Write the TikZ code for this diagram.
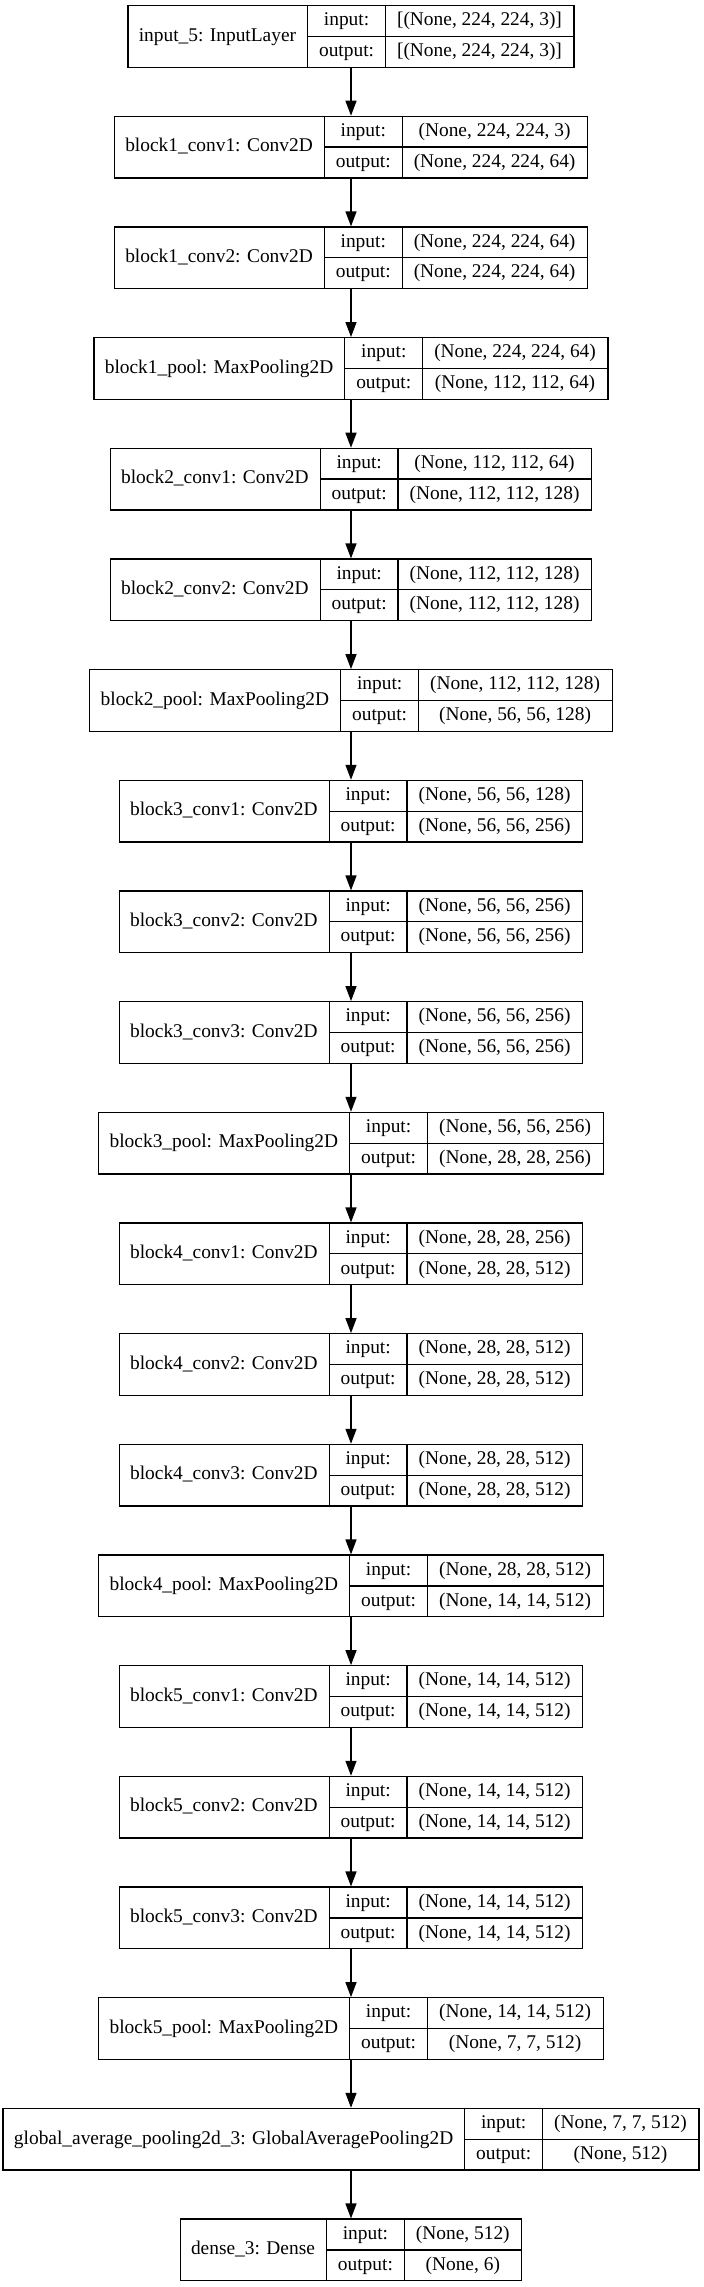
\documentclass[tikz,border=0pt]{standalone}
\usepackage{fontspec}
\setmainfont{Liberation Serif}
\usetikzlibrary{arrows.meta}
\newlength\wA \newlength\wB \newlength\wC \newlength\wD \newlength\wT
\newcommand\lfont{\fontsize{9.7pt}{11pt}\selectfont}
\tikzset{
  box/.style={draw=black, line width=0.65pt, minimum height=30.75pt, inner sep=0pt, fill=white},
  txt/.style={inner sep=0pt, font=\lfont, text height=6.6pt, text depth=1.8pt},
  divider/.style={draw=black, line width=0.65pt},
  arr/.style={draw=black, line width=0.65pt, -{Triangle[length=7.5pt,width=5.5pt]}}
}
% measure outside the picture (fonts are null inside)
\newcommand\deflayer[4]{% index, name, in, out
  \settowidth\wA{\lfont #2}\addtolength\wA{11.5pt}%
  \settowidth\wB{\lfont output:}\addtolength\wB{11.5pt}%
  \settowidth\wC{\lfont #3}\settowidth\wD{\lfont #4}%
  \ifdim\wD>\wC \wC=\wD\fi \addtolength\wC{11.5pt}%
  \wT=\wA \addtolength\wT{\wB}\addtolength\wT{\wC}%
  \expandafter\xdef\csname lwA#1\endcsname{\the\wA}%
  \expandafter\xdef\csname lwB#1\endcsname{\the\wB}%
  \expandafter\xdef\csname lwC#1\endcsname{\the\wC}%
  \expandafter\xdef\csname lwT#1\endcsname{\the\wT}%
  \expandafter\gdef\csname lname#1\endcsname{#2}%
  \expandafter\gdef\csname lin#1\endcsname{#3}%
  \expandafter\gdef\csname lout#1\endcsname{#4}%
}
\newcommand\drawlayer[1]{%
  \edef\A{\csname lwA#1\endcsname}\edef\B{\csname lwB#1\endcsname}%
  \edef\C{\csname lwC#1\endcsname}\edef\T{\csname lwT#1\endcsname}%
  \pgfmathsetmacro\ty{5.7+110.67*#1+30.75}%
  \node[box, minimum width=\T] (L#1) at (351,\ty) {};
  \draw[divider] ([xshift=\A]L#1.north west) -- ([xshift=\A]L#1.south west);
  \draw[divider] ([xshift=\A+\B]L#1.north west) -- ([xshift=\A+\B]L#1.south west);
  \draw[divider] ([xshift=\A]L#1.west) -- (L#1.east);
  \node[txt] (L#1n) at ([xshift=0.5*\A]L#1.west) {\csname lname#1\endcsname};
  \node[txt] (L#1i) at ([xshift=\A+0.5*\B, yshift=7.6875pt]L#1.west) {input:};
  \node[txt] (L#1o) at ([xshift=\A+0.5*\B, yshift=-7.6875pt]L#1.west) {output:};
  \node[txt] (L#1a) at ([xshift=\A+\B+0.5*\C, yshift=7.6875pt]L#1.west) {\csname lin#1\endcsname};
  \node[txt] (L#1b) at ([xshift=\A+\B+0.5*\C, yshift=-7.6875pt]L#1.west) {\csname lout#1\endcsname};
}
\begin{document}
\deflayer{0}{input\_5: InputLayer}{[(None, 224, 224, 3)]}{[(None, 224, 224, 3)]}%
\deflayer{1}{block1\_conv1: Conv2D}{(None, 224, 224, 3)}{(None, 224, 224, 64)}%
\deflayer{2}{block1\_conv2: Conv2D}{(None, 224, 224, 64)}{(None, 224, 224, 64)}%
\deflayer{3}{block1\_pool: MaxPooling2D}{(None, 224, 224, 64)}{(None, 112, 112, 64)}%
\deflayer{4}{block2\_conv1: Conv2D}{(None, 112, 112, 64)}{(None, 112, 112, 128)}%
\deflayer{5}{block2\_conv2: Conv2D}{(None, 112, 112, 128)}{(None, 112, 112, 128)}%
\deflayer{6}{block2\_pool: MaxPooling2D}{(None, 112, 112, 128)}{(None, 56, 56, 128)}%
\deflayer{7}{block3\_conv1: Conv2D}{(None, 56, 56, 128)}{(None, 56, 56, 256)}%
\deflayer{8}{block3\_conv2: Conv2D}{(None, 56, 56, 256)}{(None, 56, 56, 256)}%
\deflayer{9}{block3\_conv3: Conv2D}{(None, 56, 56, 256)}{(None, 56, 56, 256)}%
\deflayer{10}{block3\_pool: MaxPooling2D}{(None, 56, 56, 256)}{(None, 28, 28, 256)}%
\deflayer{11}{block4\_conv1: Conv2D}{(None, 28, 28, 256)}{(None, 28, 28, 512)}%
\deflayer{12}{block4\_conv2: Conv2D}{(None, 28, 28, 512)}{(None, 28, 28, 512)}%
\deflayer{13}{block4\_conv3: Conv2D}{(None, 28, 28, 512)}{(None, 28, 28, 512)}%
\deflayer{14}{block4\_pool: MaxPooling2D}{(None, 28, 28, 512)}{(None, 14, 14, 512)}%
\deflayer{15}{block5\_conv1: Conv2D}{(None, 14, 14, 512)}{(None, 14, 14, 512)}%
\deflayer{16}{block5\_conv2: Conv2D}{(None, 14, 14, 512)}{(None, 14, 14, 512)}%
\deflayer{17}{block5\_conv3: Conv2D}{(None, 14, 14, 512)}{(None, 14, 14, 512)}%
\deflayer{18}{block5\_pool: MaxPooling2D}{(None, 14, 14, 512)}{(None, 7, 7, 512)}%
\deflayer{19}{global\_average\_pooling2d\_3: GlobalAveragePooling2D}{(None, 7, 7, 512)}{(None, 512)}%
\deflayer{20}{dense\_3: Dense}{(None, 512)}{(None, 6)}%
\begin{tikzpicture}[x=0.5pt, y=-0.5pt]
  \fill[white] (0,0) rectangle (703,2287);
  \useasboundingbox (0,0) rectangle (703,2287);
  \foreach \k in {0,...,20} { \drawlayer{\k} }
  \foreach \i [evaluate=\i as \j using int(\i+1)] in {0,...,19} {
    \draw[arr] (L\i.south) -- (L\j.north);
  }
\end{tikzpicture}
\end{document}
